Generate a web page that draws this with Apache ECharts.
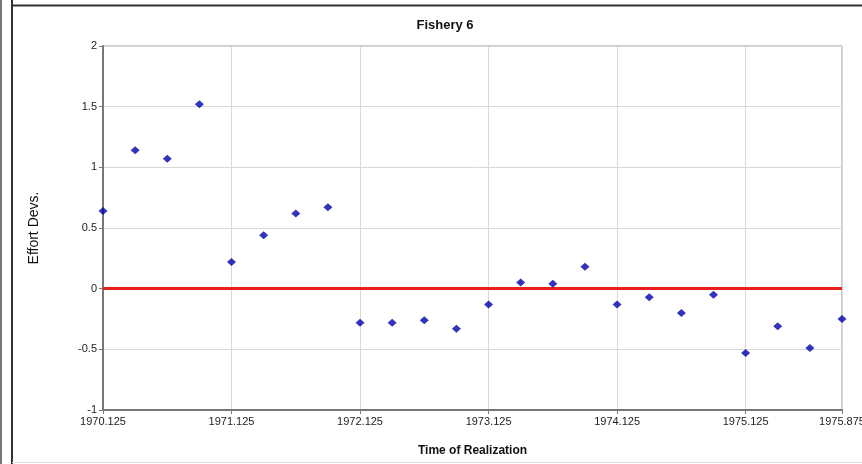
<!DOCTYPE html>
<html>
<head>
<meta charset="utf-8">
<script src="https://cdn.jsdelivr.net/npm/echarts@6/dist/echarts.min.js"></script>
<style>
html,body{margin:0;padding:0;background:#fff;}
#chart{width:862px;height:464px;}
</style>
</head>
<body>
<div id="chart"></div>
<script>
// ---- data ----
const title = 'Fishery 6';
const xAxisName = 'Time of Realization';
const yAxisName = 'Effort Devs.';
const xStart = 1970.125;
const times = [1970.125, 1970.375, 1970.625, 1970.875, 1971.125, 1971.375, 1971.625, 1971.875,
               1972.125, 1972.375, 1972.625, 1972.875, 1973.125, 1973.375, 1973.625, 1973.875,
               1974.125, 1974.375, 1974.625, 1974.875, 1975.125, 1975.375, 1975.625, 1975.875];
const effortDevs = [0.64, 1.14, 1.07, 1.52, 0.22, 0.44, 0.62, 0.67,
                    -0.28, -0.28, -0.26, -0.33, -0.13, 0.05, 0.04, 0.18,
                    -0.13, -0.07, -0.20, -0.05, -0.53, -0.31, -0.49, -0.25];
const xTickLabels = ['1970.125', '1971.125', '1972.125', '1973.125', '1974.125', '1975.125', '1975.875'];
const yTickLabels = ['-1', '-0.5', '0', '0.5', '1', '1.5', '2'];
const refLineValue = 0;

const chart = echarts.init(document.getElementById('chart'), null, {renderer: 'canvas'});
const font = 'Liberation Sans, Arial, sans-serif';

const option = {
  backgroundColor: '#fff',
  animation: false,
  title: {
    text: title, left: 440, top: 14, textAlign: 'center',
    textStyle: {fontFamily: font, fontSize: 13, fontWeight: 'bold', color: '#111'}
  },
  graphic: [
    {type: 'line', shape: {x1: 1, y1: 0, x2: 1, y2: 464}, style: {stroke: '#777', lineWidth: 2}},
    {type: 'line', shape: {x1: 12, y1: 0, x2: 12, y2: 464}, style: {stroke: '#333', lineWidth: 2}},
    {type: 'line', shape: {x1: 12, y1: 5.5, x2: 862, y2: 5.5}, style: {stroke: '#333', lineWidth: 2}},
    {type: 'line', shape: {x1: 12, y1: 462.5, x2: 862, y2: 462.5}, style: {stroke: '#ddd', lineWidth: 1}}
  ],
  grid: {
    left: 103, right: 20, top: 46, bottom: 54,
    outerBoundsMode: 'none', containLabel: false,
    show: true, borderColor: '#999', borderWidth: 1, backgroundColor: 'transparent'
  },
  xAxis: {
    type: 'value',
    min: 0, max: times[times.length - 1] - xStart, interval: 1,
    name: xAxisName, nameLocation: 'middle', nameGap: 35,
    nameTextStyle: {fontFamily: font, fontSize: 12, fontWeight: 'bold', color: '#111'},
    axisLine: {show: true, onZero: false, lineStyle: {color: '#777', width: 2}},
    axisTick: {show: true, length: 4, lineStyle: {color: '#777'}},
    axisLabel: {
      fontFamily: font, fontSize: 11, color: '#222', margin: 6,
      showMinLabel: true, showMaxLabel: true, hideOverlap: false,
      formatter: function (v) {
        const t = v + xStart;
        const lbl = xTickLabels.find(s => Math.abs(parseFloat(s) - t) < 1e-6);
        return lbl !== undefined ? lbl : '';
      }
    },
    splitLine: {show: true, lineStyle: {color: '#d8d8d8', width: 1}}
  },
  yAxis: {
    type: 'value',
    min: parseFloat(yTickLabels[0]), max: parseFloat(yTickLabels[yTickLabels.length - 1]), interval: 0.5,
    name: yAxisName, nameLocation: 'middle', nameGap: 62, nameRotate: 90,
    nameTextStyle: {fontFamily: 'Liberation Sans Narrow, Liberation Sans, Arial, sans-serif', fontSize: 14, color: '#111'},
    axisLine: {show: true, lineStyle: {color: '#777', width: 2}},
    axisTick: {show: true, length: 4, lineStyle: {color: '#777'}},
    axisLabel: {
      fontFamily: font, fontSize: 11, color: '#222', margin: 6,
      formatter: function (v) {
        const lbl = yTickLabels.find(s => Math.abs(parseFloat(s) - v) < 1e-6);
        return lbl !== undefined ? lbl : '';
      }
    },
    splitLine: {show: true, lineStyle: {color: '#d8d8d8', width: 1}}
  },
  series: [
    {
      type: 'scatter',
      symbol: 'diamond',
      symbolSize: [9, 8],
      itemStyle: {color: '#0000aa'},
      data: times.map((t, i) => [t - xStart, effortDevs[i]]),
      z: 5,
      markLine: {
        silent: true,
        symbol: ['none', 'none'],
        label: {show: false},
        lineStyle: {color: '#e8201c', width: 3, type: 'solid'},
        data: [{yAxis: refLineValue}],
        z: 3
      }
    }
  ]
};
chart.setOption(option);
</script>
</body>
</html>
